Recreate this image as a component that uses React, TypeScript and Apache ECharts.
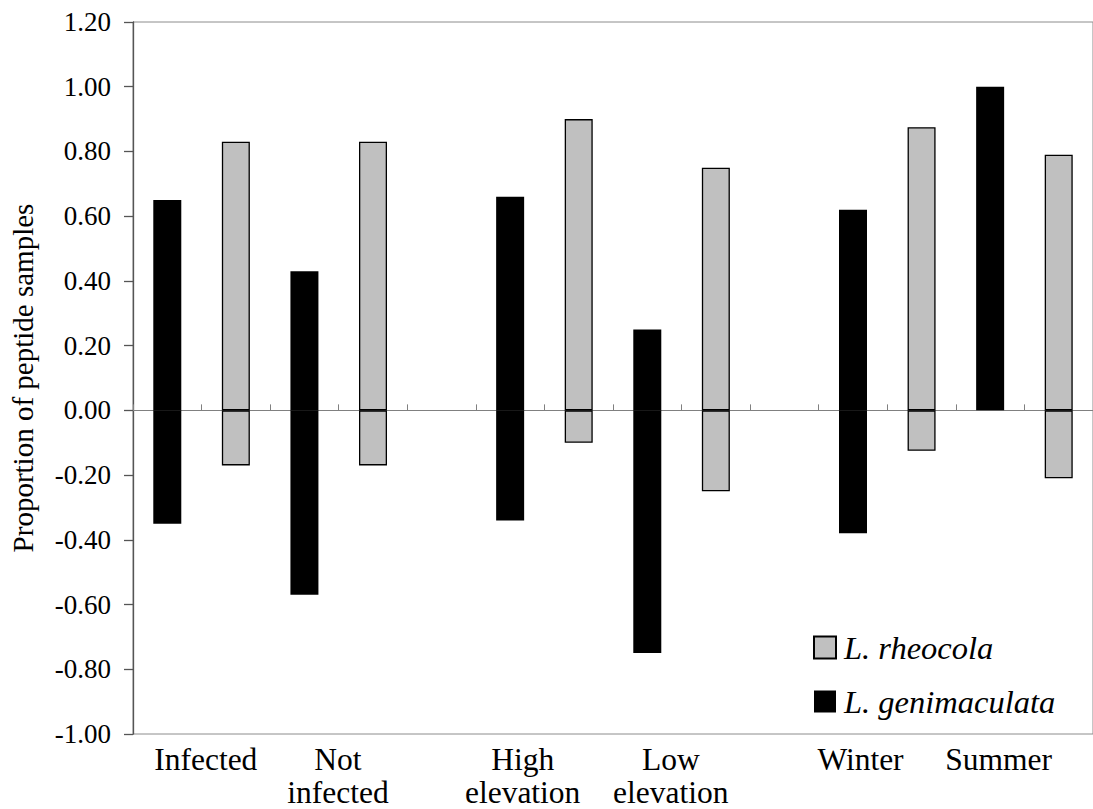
import React, { useEffect, useRef } from 'react';
import * as echarts from 'echarts';

// ---- data ----
const groups = ['Infected', 'Not\ninfected', 'High\nelevation', 'Low\nelevation', 'Winter', 'Summer'];
const genimaculataPos = [0.65, 0.43, 0.66, 0.25, 0.62, 1.0];
const genimaculataNeg = [-0.35, -0.57, -0.34, -0.75, -0.38, 0];
const rheocolaPos = [0.83, 0.83, 0.9, 0.75, 0.875, 0.79];
const rheocolaNeg = [-0.17, -0.17, -0.1, -0.25, -0.125, -0.21];
const yMin = -1.0;
const yMax = 1.2;
const yStep = 0.2;
const legendNames = ['L. rheocola', 'L. genimaculata'];
const yTitle = 'Proportion of peptide samples';

// ---- layout helpers (not data) ----
const labelShift = [38.5, 33.5, 12.5, 23.5, 7.5, 8.5];
const FONT = "'Liberation Serif', 'Times New Roman', serif";

const groupStart = (g: number) => g * 2 + Math.floor(g / 2);
const slotCount = groupStart(groups.length - 1) + 2;
const slotKeys = Array.from({ length: slotCount }, (_, i) => 'slot' + i);
const groupStarts = groups.map((_, g) => groupStart(g));

const fill = (vals: number[], offset: number) => {
  const arr: (number | string)[] = Array(slotCount).fill('-');
  vals.forEach((v, g) => {
    arr[groupStart(g) + offset] = v;
  });
  return arr;
};

export default function App() {
  const ref = useRef<HTMLDivElement>(null);
  useEffect(() => {
    if (!ref.current) return;
    const chart = echarts.init(ref.current, undefined, { renderer: 'svg' });
    const rich: Record<string, any> = {};
    labelShift.forEach((s, g) => {
      rich['g' + g] = {
        fontSize: 31.5,
        lineHeight: 33,
        fontFamily: FONT,
        color: '#000',
        padding: s >= 0 ? [0, 0, 0, 2 * s] : [0, -2 * s, 0, 0],
      };
    });
    const grayStyle = { color: '#C0C0C0', borderColor: '#000', borderWidth: 1.3 };
    const blackStyle = { color: '#000' };
    chart.setOption({
      animation: false,
      backgroundColor: '#fff',
      grid: {
        left: 132,
        top: 22,
        width: 966,
        height: 712,
        show: true,
        borderColor: '#8c8c8c',
        borderWidth: 1,
      },
      legend: {
        orient: 'vertical',
        left: 813,
        top: 631,
        padding: 0,
        itemWidth: 22,
        itemHeight: 22,
        itemGap: 21,
        icon: 'rect',
        data: legendNames,
        textStyle: {
          fontFamily: FONT,
          fontSize: 32.5,
          fontStyle: 'italic',
          color: '#000',
          padding: [0, 0, 0, 3],
        },
      },
      xAxis: [
        {
          type: 'category',
          data: slotKeys,
          axisLine: { onZero: true, lineStyle: { color: '#808080', width: 1 } },
          axisTick: { show: true, inside: true, length: 6, interval: 0, lineStyle: { color: '#808080' } },
          axisLabel: { show: false },
          splitLine: { show: false },
        },
        {
          type: 'category',
          data: slotKeys,
          position: 'bottom',
          axisLine: { show: false, onZero: false },
          axisTick: { show: false },
          axisLabel: {
            show: true,
            interval: 0,
            margin: 9,
            formatter: (_v: string, idx: number) => {
              const g = groupStarts.indexOf(idx);
              if (g < 0) return '';
              return groups[g]
                .split('\n')
                .map((l) => `{g${g}|${l}}`)
                .join('\n');
            },
            rich,
          },
          splitLine: { show: false },
        },
      ],
      yAxis: {
        type: 'value',
        min: yMin,
        max: yMax,
        interval: yStep,
        name: yTitle,
        nameLocation: 'middle',
        nameGap: 96,
        nameTextStyle: { fontFamily: FONT, fontSize: 29, color: '#000' },
        axisLine: { show: true, lineStyle: { color: '#555', width: 1.3 } },
        axisTick: { show: true, length: 9, lineStyle: { color: '#555', width: 1.3 } },
        axisLabel: {
          fontFamily: FONT,
          fontSize: 27,
          color: '#000',
          margin: 22,
          formatter: (v: number) => (Math.abs(v) < 1e-9 ? '0.00' : v.toFixed(2)),
        },
        splitLine: { show: false },
      },
      series: [
        { name: legendNames[1], type: 'bar', stack: 'all', barWidth: 28, xAxisIndex: 0, itemStyle: blackStyle, data: fill(genimaculataPos, 0) },
        { name: legendNames[1], type: 'bar', stack: 'all', barWidth: 28, xAxisIndex: 0, itemStyle: blackStyle, data: fill(genimaculataNeg, 0) },
        { name: legendNames[0], type: 'bar', stack: 'all', barWidth: 28, xAxisIndex: 0, itemStyle: grayStyle, data: fill(rheocolaPos, 1) },
        { name: legendNames[0], type: 'bar', stack: 'all', barWidth: 28, xAxisIndex: 0, itemStyle: grayStyle, data: fill(rheocolaNeg, 1) },
      ],
    });
    return () => chart.dispose();
  }, []);
  return (
    <div
      ref={ref}
      style={{ position: 'absolute', left: 0, top: 0, width: 1093, height: 809, overflow: 'hidden', background: '#fff' }}
    />
  );
}
